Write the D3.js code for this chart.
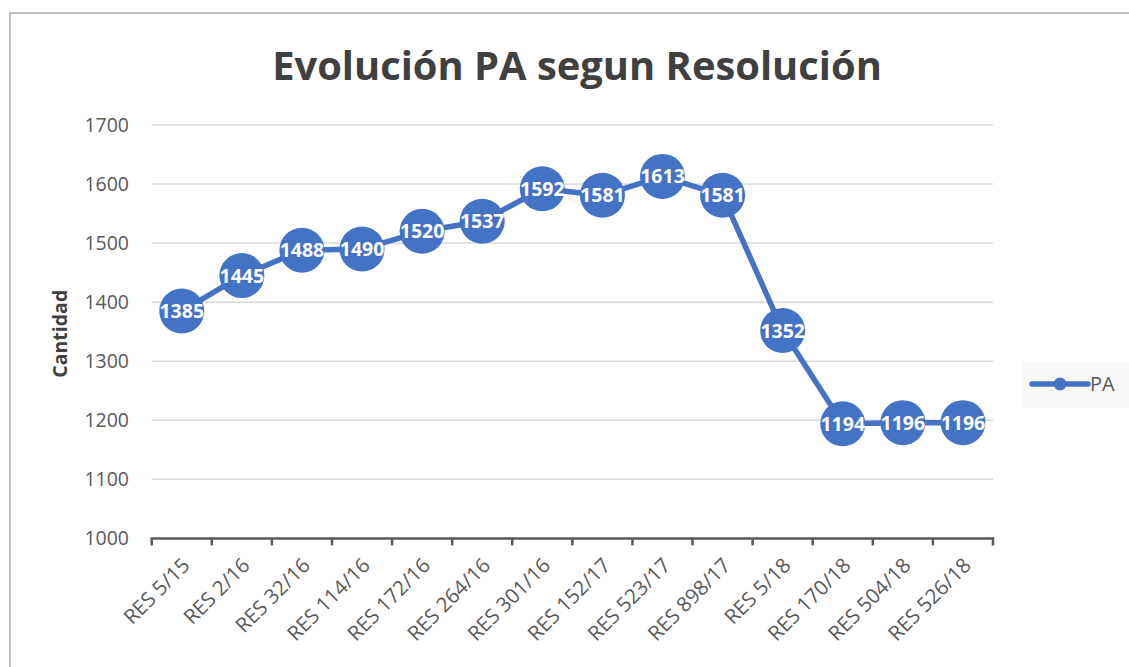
<!DOCTYPE html>
<html>
<head>
<meta charset="utf-8">
<script src="https://cdn.jsdelivr.net/npm/d3@7"></script>
<style>
  body { margin: 0; background: #fff; }
  svg { display: block; font-family: "Open Sans", sans-serif; }
</style>
</head>
<body>
<svg id="chart" width="1129" height="667"></svg>
<script>
const categories = ["RES 5/15", "RES 2/16", "RES 32/16", "RES 114/16", "RES 172/16", "RES 264/16", "RES 301/16",
  "RES 152/17", "RES 523/17", "RES 898/17", "RES 5/18", "RES 170/18", "RES 504/18", "RES 526/18"];
const paValues = [1385, 1445, 1488, 1490, 1520, 1537, 1592, 1581, 1613, 1581, 1352, 1194, 1196, 1196];
const yTicks = [1000, 1100, 1200, 1300, 1400, 1500, 1600, 1700];

const BLUE = "#4472C4";
const TEXT = "#595959";

const svg = d3.select("#chart");

// chart frame (top + left edge visible)
svg.append("path")
  .attr("d", "M10,700V13H1129")
  .attr("fill", "none")
  .attr("stroke", "#bfbfbf")
  .attr("stroke-width", 2);

const x = d3.scaleBand().domain(categories).range([151.7, 993]);
const y = d3.scaleLinear().domain([1000, 1700]).range([538.4, 125]);

// title
const title = svg.append("text")
  .attr("x", 577)
  .attr("y", 80)
  .attr("text-anchor", "middle")
  .attr("font-weight", "bold")
  .attr("font-size", 36)
  .attr("fill", "#404040")
  .text("Evolución PA segun Resolución");
const tw = title.node().getComputedTextLength();
title.attr("font-size", 36 * 610 / tw);

// gridlines
svg.append("g")
  .selectAll("line")
  .data(yTicks.filter(d => d > 1000))
  .join("line")
  .attr("x1", 151.7)
  .attr("x2", 993)
  .attr("y1", d => y(d))
  .attr("y2", d => y(d))
  .attr("stroke", "#d9d9d9")
  .attr("stroke-width", 1.5);

// y axis labels
svg.append("g")
  .selectAll("text")
  .data(yTicks)
  .join("text")
  .attr("x", 129)
  .attr("y", d => y(d))
  .attr("dy", "0.36em")
  .attr("text-anchor", "end")
  .attr("font-size", 19.5)
  .attr("fill", TEXT)
  .text(d => d);

svg.append("text")
  .attr("transform", `translate(67,${(y(1000) + y(1700)) / 2 + 2}) rotate(-90)`)
  .attr("text-anchor", "middle")
  .attr("font-weight", "bold")
  .attr("font-size", 19.5)
  .attr("fill", "#404040")
  .text("Cantidad");

// x axis: line with tick marks at category boundaries
const xAxis = d3.axisBottom(x).tickSize(0).tickFormat("");
const gx = svg.append("g")
  .attr("transform", `translate(0,${y(1000)})`)
  .call(xAxis);
gx.select(".domain").remove();
gx.append("path")
  .attr("d", "M" + x.range()[0] + ",7V0H" + x.range()[1] + "V7")
  .attr("fill", "none")
  .attr("stroke", TEXT)
  .attr("stroke-width", 2.5);
gx.append("g")
  .selectAll("line")
  .data(categories.slice(1))
  .join("line")
  .attr("x1", d => x(d))
  .attr("x2", d => x(d))
  .attr("y1", 0)
  .attr("y2", 7)
  .attr("stroke", TEXT)
  .attr("stroke-width", 2.5);

svg.append("g")
  .selectAll("text")
  .data(categories)
  .join("text")
  .attr("transform", d => `translate(${x(d) + x.bandwidth() / 2 - 1},${y(1000) + 18}) rotate(-45)`)
  .attr("text-anchor", "end")
  .attr("dy", "0.71em")
  .attr("font-size", 20.5)
  .attr("fill", TEXT)
  .text(d => d);

// series line
const cx = (d, i) => x(categories[i]) + x.bandwidth() / 2;
const line = d3.line()
  .x((d, i) => cx(d, i))
  .y(d => y(d));

svg.append("path")
  .datum(paValues)
  .attr("d", line)
  .attr("fill", "none")
  .attr("stroke", BLUE)
  .attr("stroke-width", 5.5)
  .attr("stroke-linejoin", "round")
  .attr("stroke-linecap", "round");

const pts = svg.append("g")
  .selectAll("g")
  .data(paValues)
  .join("g")
  .attr("transform", (d, i) => `translate(${cx(d, i)},${y(d)})`);
pts.append("circle")
  .attr("r", 22.5)
  .attr("fill", BLUE);
pts.append("text")
  .attr("text-anchor", "middle")
  .attr("dy", "0.36em")
  .attr("font-weight", "bold")
  .attr("font-size", 19.5)
  .attr("fill", "#fff")
  .text(d => d);

// legend
const lg = svg.append("g").attr("transform", "translate(1022,362)");
lg.append("rect")
  .attr("width", 107)
  .attr("height", 46)
  .attr("fill", "#f8f8f8");
lg.append("line")
  .attr("x1", 10).attr("x2", 66)
  .attr("y1", 22).attr("y2", 22)
  .attr("stroke", BLUE)
  .attr("stroke-width", 5.5)
  .attr("stroke-linecap", "round");
lg.append("circle")
  .attr("cx", 38).attr("cy", 22)
  .attr("r", 6.5)
  .attr("fill", BLUE);
lg.append("text")
  .attr("x", 68)
  .attr("y", 22)
  .attr("dy", "0.36em")
  .attr("font-size", 20)
  .attr("fill", TEXT)
  .text("PA");
</script>
</body>
</html>
